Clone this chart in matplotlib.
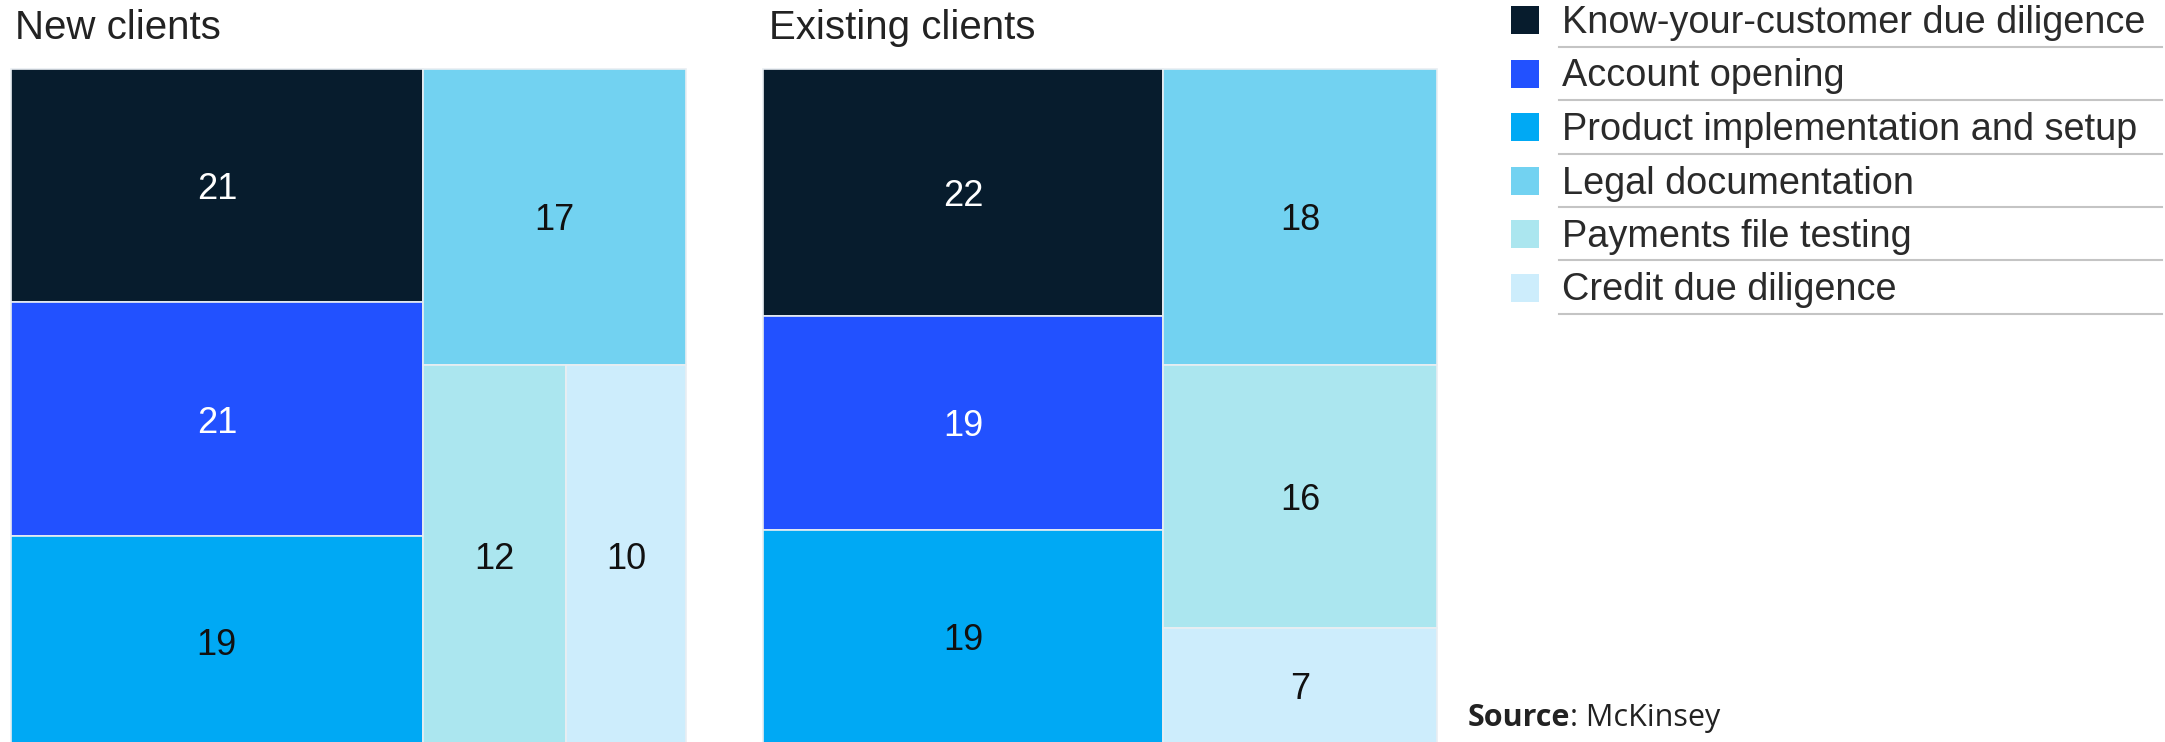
import matplotlib.pyplot as plt
from matplotlib.patches import Rectangle
from matplotlib.lines import Line2D

# Data
categories = ['Know-your-customer due diligence', 'Account opening',
              'Product implementation and setup', 'Legal documentation',
              'Payments file testing', 'Credit due diligence']
colors = ['#071c2d', '#2251ff', '#00a9f4', '#72d2f1', '#abe6ef', '#cdedfc']
label_colors = ['white', 'white', '#111111', '#111111', '#111111', '#111111']
new_clients = [21, 21, 19, 17, 12, 10]
existing_clients = [22, 19, 19, 18, 16, 7]
panel_titles = ['New clients', 'Existing clients']
source_text = 'McKinsey'

PHI = (1 + 5 ** 0.5) / 2
W, H = 2165, 742


def squarify(values, x0, y0, x1, y1, ratio=PHI):
    # squarified treemap (d3 style), returns (x, y, w, h) per value
    rects = []
    total = float(sum(values))
    i0, n = 0, len(values)
    while i0 < n:
        dx, dy = x1 - x0, y1 - y0
        s = values[i0]
        vmin = vmax = s
        alpha = max(dy / dx, dx / dy) / (total * ratio)
        beta = s * s * alpha
        best = max(vmax / beta, beta / vmin)
        i1 = i0 + 1
        while i1 < n:
            v = values[i1]
            s2 = s + v
            mn, mx = min(vmin, v), max(vmax, v)
            beta = s2 * s2 * alpha
            r = max(mx / beta, beta / mn)
            if r > best:
                break
            s, vmin, vmax, best = s2, mn, mx, r
            i1 += 1
        row = values[i0:i1]
        if dx < dy:
            h = dy * s / total
            x = x0
            for v in row:
                w = dx * v / s
                rects.append((x, y0, w, h))
                x += w
            y0 += h
        else:
            w = dx * s / total
            y = y0
            for v in row:
                h = dy * v / s
                rects.append((x0, y, w, h))
                y += h
            x0 += w
        total -= s
        i0 = i1
    return rects


def box(left, top, w, h):
    return [left / W, (H - top - h) / H, w / W, h / H]


def fx(px):
    return px / W


def fy(py):
    return 1 - py / H


plt.rcParams['font.family'] = ['Liberation Sans', 'DejaVu Sans']
fig = plt.figure(figsize=(W / 100, H / 100), dpi=100)

panels = [(new_clients, box(11, 69, 675, 678), 15),
          (existing_clients, box(763, 69, 674, 674), 769)]

for (values, pos, tx), title in zip(panels, panel_titles):
    ax = fig.add_axes(pos)
    ax.set_xlim(0, 100)
    ax.set_ylim(100, 0)
    ax.axis('off')
    for (x, y, w, h), v, c, lc in zip(squarify(values, 0, 0, 100, 100),
                                      values, colors, label_colors):
        ax.add_patch(Rectangle((x, y), w, h, facecolor=c,
                               edgecolor='#e9eef2', linewidth=1.2, clip_on=False))
        ax.text(x + w / 2, y + h / 2, str(v), ha='center', va='center_baseline',
                fontsize=26, color=lc)
    fig.text(fx(tx), fy(39), title, ha='left', va='baseline',
             fontsize=29, color='#222222')

# Legend
for i, (cat, c) in enumerate(zip(categories, colors)):
    cy = 20 + i * 53.5
    fig.patches.append(Rectangle((fx(1511), fy(cy + 14)), 28 / W, 28 / H,
                                 facecolor=c, edgecolor='none',
                                 transform=fig.transFigure))
    fig.text(fx(1562), fy(cy + 13), cat, ha='left', va='baseline',
             fontsize=27.3, color='#2a2a2a')
    ly = fy(cy + 26.5)
    fig.lines.append(Line2D([fx(1559), fx(2162)], [ly, ly], color='#c4c4c4',
                            linewidth=1.5, transform=fig.transFigure))

# Source
src = fig.text(fx(1468), fy(726), 'Source', ha='left', va='baseline',
               fontsize=22, fontweight='bold', color='#222222',
               family=['Open Sans', 'DejaVu Sans'])
fig.canvas.draw()
bb = src.get_window_extent()
fig.text(bb.x1 / W, fy(726), ': ' + source_text, ha='left', va='baseline',
         fontsize=22, color='#222222', family=['Open Sans', 'DejaVu Sans'])

fig.savefig('out.png', dpi=100)
